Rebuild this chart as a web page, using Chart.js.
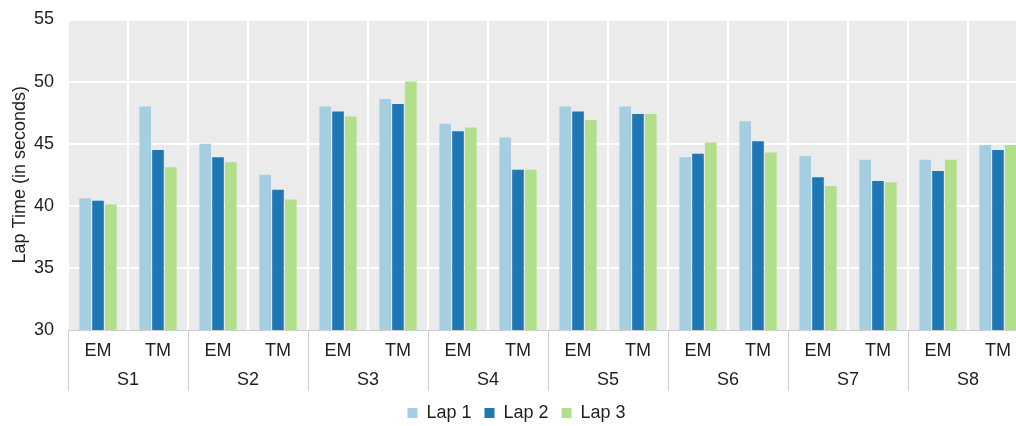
<!DOCTYPE html>
<html>
<head>
<meta charset="utf-8">
<script src="https://cdn.jsdelivr.net/npm/chart.js@4.4.1/dist/chart.umd.min.js"></script>
<style>
  html, body { margin: 0; padding: 0; background: #ffffff; width: 1016px; height: 426px; overflow: hidden; }
  #wrap { width: 1040px; height: 432px; }
</style>
</head>
<body>
<div id="wrap"><canvas id="chart" width="1040" height="432"></canvas></div>
<script>
// Sessions and the two methods measured in each one
const sessions = ['S1', 'S2', 'S3', 'S4', 'S5', 'S6', 'S7', 'S8'];
const methods = ['EM', 'TM'];
const categories = ['EM', 'TM', 'EM', 'TM', 'EM', 'TM', 'EM', 'TM',
                    'EM', 'TM', 'EM', 'TM', 'EM', 'TM', 'EM', 'TM'];

// Lap times in seconds, one value per session/method pair
const lap1 = [40.6, 48.0, 45.0, 42.5, 48.0, 48.6, 46.6, 45.5, 48.0, 48.0, 43.9, 46.8, 44.0, 43.7, 43.7, 44.9];
const lap2 = [40.4, 44.5, 43.9, 41.3, 47.6, 48.2, 46.0, 42.9, 47.6, 47.4, 44.2, 45.2, 42.3, 42.0, 42.8, 44.5];
const lap3 = [40.1, 43.1, 43.5, 40.5, 47.2, 50.0, 46.3, 42.9, 46.9, 47.4, 45.1, 44.3, 41.6, 41.9, 43.7, 44.9];

const seriesNames = ['Lap 1', 'Lap 2', 'Lap 3'];
const yMin = 30, yMax = 55, yStep = 5;

const FONT = 'Liberation Sans, Arial, sans-serif';
const TEXT = '#1f1f1f';
const AXIS_GRAY = '#cfcfcf';

// Grey panel behind the bars
const panelBackground = {
  id: 'panelBackground',
  beforeDraw(chart) {
    const { ctx, chartArea: a } = chart;
    ctx.save();
    ctx.fillStyle = '#ebebeb';
    ctx.fillRect(a.left, a.top, a.right - a.left, a.bottom - a.top);
    ctx.restore();
  }
};

// Vertical dividers between session groups in the label area
const groupDividers = {
  id: 'groupDividers',
  afterDraw(chart) {
    const x = chart.scales.x, x2 = chart.scales.x2;
    const { ctx } = chart;
    const half = (x.getPixelForValue(1) - x.getPixelForValue(0)) / 2;
    ctx.save();
    ctx.strokeStyle = AXIS_GRAY;
    ctx.lineWidth = 1;
    for (let k = 0; k <= sessions.length; k++) {
      const px = Math.round(x.getPixelForValue(k * methods.length) - half) + 0.5;
      ctx.beginPath();
      ctx.moveTo(px, x.top);
      ctx.lineTo(px, x2.bottom);
      ctx.stroke();
    }
    ctx.restore();
  }
};

new Chart(document.getElementById('chart'), {
  type: 'bar',
  data: {
    labels: categories,
    datasets: [
      { label: seriesNames[0], data: lap1, backgroundColor: '#a6cee3', xAxisID: 'x', yAxisID: 'y' },
      { label: seriesNames[1], data: lap2, backgroundColor: '#1f78b4', xAxisID: 'x', yAxisID: 'y' },
      { label: seriesNames[2], data: lap3, backgroundColor: '#b2df8a', xAxisID: 'x', yAxisID: 'y' }
    ]
  },
  options: {
    responsive: false,
    animation: false,
    devicePixelRatio: 1,
    categoryPercentage: 0.64,
    barPercentage: 0.91,
    layout: { padding: { left: 5, right: 12, top: 19.5, bottom: 0 } },
    plugins: {
      tooltip: { enabled: false },
      legend: {
        position: 'bottom',
        labels: {
          boxWidth: 10,
          boxHeight: 10,
          padding: 13,
          color: TEXT,
          font: { family: FONT, size: 18 }
        }
      }
    },
    scales: {
      x: {
        type: 'category',
        position: 'bottom',
        weight: 0,
        offset: true,
        grid: { offset: true, color: '#ffffff', lineWidth: 2, drawTicks: false },
        border: { display: true, color: AXIS_GRAY, width: 1 },
        ticks: { color: TEXT, padding: 10, maxRotation: 0, autoSkip: false, font: { family: FONT, size: 18 } },
        afterFit: (s) => { s.height = 31; }
      },
      x2: {
        type: 'category',
        axis: 'x',
        position: 'bottom',
        weight: 1,
        labels: sessions,
        offset: true,
        grid: { display: false, drawTicks: false },
        border: { display: false },
        ticks: { color: TEXT, padding: 8, maxRotation: 0, autoSkip: false, font: { family: FONT, size: 18 } },
        afterFit: (s) => { s.height = 30; }
      },
      y: {
        min: yMin,
        max: yMax,
        grid: {
          color: (c) => (c.tick && c.tick.value === yMin ? 'rgba(0,0,0,0)' : '#ffffff'),
          lineWidth: 2,
          drawTicks: false
        },
        border: { display: false },
        ticks: { stepSize: yStep, color: TEXT, padding: 14, font: { family: FONT, size: 18 } },
        title: {
          display: true,
          text: 'Lap Time (in seconds)',
          color: TEXT,
          font: { family: FONT, size: 18 },
          padding: { top: 4, bottom: 4 }
        },
        afterFit: (s) => { s.width = 63; s.paddingTop = 0; s.paddingBottom = 0; }
      }
    }
  },
  plugins: [panelBackground, groupDividers]
});
</script>
</body>
</html>
